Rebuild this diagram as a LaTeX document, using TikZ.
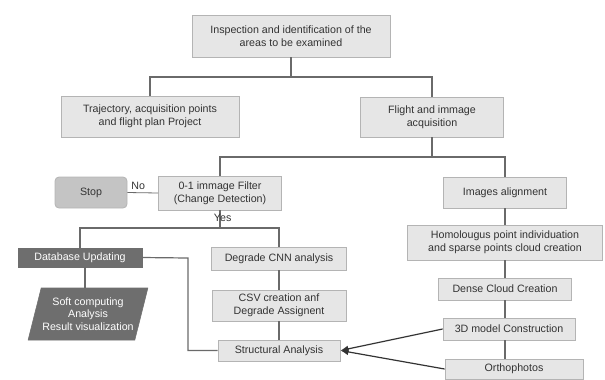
\documentclass[tikz,border=0pt]{standalone}
\usepackage{fontspec}
\setmainfont{Liberation Sans}
\usetikzlibrary{shapes.geometric,arrows.meta}
\definecolor{boxfill}{HTML}{E6E6E6}
\definecolor{boxdraw}{HTML}{B4B4B4}
\definecolor{stopfill}{HTML}{C4C4C4}
\definecolor{darkfill}{HTML}{6E6E6E}
\definecolor{linecol}{HTML}{6A6A6A}
\definecolor{txt}{HTML}{333333}
\begin{document}
\begin{tikzpicture}[x=0.75pt,y=-0.75pt,
  every node/.style={font=\fontsize{8}{9.5}\selectfont, text=txt},
  box/.style={draw=boxdraw, fill=boxfill, line width=0.6pt, align=center, inner sep=1pt},
  stopbox/.style={draw=boxdraw, fill=stopfill, rounded corners=3pt, line width=0.6pt, align=center},
  darkbox/.style={draw=darkfill, fill=darkfill, text=white, align=center, inner sep=1pt},
  conn/.style={draw=linecol, line width=0.9pt},
  lbl/.style={inner sep=1pt}
]
\useasboundingbox (0,0) rectangle (605,379);

% top part
\node[box, minimum width=148.5pt, minimum height=31.5pt] (top) at (291,36) {Inspection and identification of the\\areas to be examined};
\node[box, minimum width=133.5pt, minimum height=30.75pt] (traj) at (150,116.5) {Trajectory, acquisition points\\and flight plan Project};
\node[box, minimum width=107.25pt, minimum height=30pt] (flight) at (432,117) {Flight and immage\\acquisition};

% left branch
\node[box, minimum width=92.25pt, minimum height=25.5pt] (filter) at (220,193) {0-1 immage Filter\\(Change Detection)};
\node[stopbox, minimum width=54pt, minimum height=23.25pt] (stop) at (91,192.5) {Stop};
\node[darkbox, minimum width=93pt, minimum height=14.25pt] (db) at (80,257.5) {Database Updating};
\node[darkbox, trapezium, trapezium left angle=69, trapezium right angle=111, trapezium stretches=true, minimum width=90pt, minimum height=39pt, inner sep=0pt] (para) at (88,314) {Soft computing\\Analysis\\Result visualization};

% middle column
\node[box, minimum width=101.25pt, minimum height=17.25pt] (degrade) at (279,258.5) {Degrade CNN analysis};
\node[box, minimum width=100.5pt, minimum height=23.25pt] (csv) at (279,305.5) {CSV creation anf\\Degrade Assignent};
\node[box, minimum width=91.5pt, minimum height=15.75pt] (struct) at (279,350.5) {Structural Analysis};

% right column
\node[box, minimum width=92.25pt, minimum height=23.25pt] (images) at (505,192.5) {Images alignment};
\node[box, minimum width=146.25pt, minimum height=26.25pt] (homol) at (505,242.5) {Homolougus point individuation\\and sparse points cloud creation};
\node[box, minimum width=99.75pt, minimum height=16.5pt] (dense) at (505,289) {Dense Cloud Creation};
\node[box, minimum width=99pt, minimum height=16.5pt] (model) at (509,329) {3D model Construction};
\node[box, minimum width=103.5pt, minimum height=15pt] (ortho) at (514,369) {Orthophotos};

% junction coordinates
\coordinate (j1) at (291,77);
\coordinate (j2) at (432,157);
\coordinate (j3) at (220,228);
\coordinate (k) at (188,258);

% connectors
\draw[conn] (top.south) -- (j1);
\draw[conn] (traj.north) -- (traj.north |- j1) -- (flight.north |- j1) -- (flight.north);
\draw[conn] (flight.south) -- (j2);
\draw[conn] (filter.north) -- (filter.north |- j2) -- (images.north |- j2) -- (images.north);

\draw[conn, line width=0.6pt] (stop.east) -- node[lbl, above, pos=0.35, yshift=1pt] {No} (filter.west);
\draw[conn] (filter.south) -- node[lbl, pos=0.45, xshift=2pt] {Yes} (j3);
\draw[conn] (db.north) -- (db.north |- j3) -- (degrade.north |- j3) -- (degrade.north);

\draw[conn] ([xshift=3.75pt]db.south) -- ([xshift=3.75pt]db.south |- para.north);
\draw[conn] (db.east) -- (k) |- (struct.west);

\draw[conn] (degrade.south) -- (csv.north);
\draw[conn] (csv.south) -- (struct.north);

\draw[conn] (images.south) -- (homol.north);
\draw[conn] (homol.south) -- (dense.north);
\draw[conn] (dense.south) -- (dense.south |- model.north);
\draw[conn] (dense.south |- model.south) -- (dense.south |- ortho.north);

\draw[conn, -{Latex[length=6pt,width=5pt]}, draw=black!80] (model.west) -- (struct.east);
\draw[conn, -{Latex[length=6pt,width=5pt]}, draw=black!80] (ortho.west) -- (struct.east);
\end{tikzpicture}
\end{document}
